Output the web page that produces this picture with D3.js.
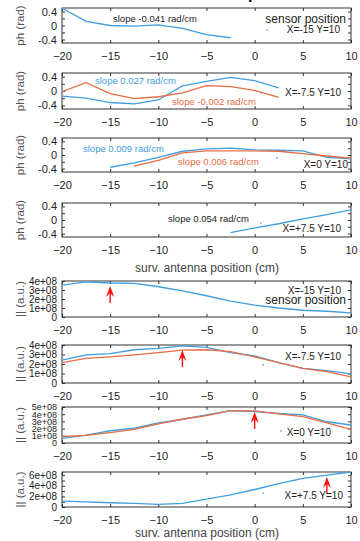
<!DOCTYPE html>
<html><head><meta charset="utf-8">
<script src="https://cdn.jsdelivr.net/npm/d3@7"></script>
<style>
body{margin:0;background:#fff}
svg{display:block}
text{font-family:"Liberation Sans",Arial,sans-serif}
</style>
</head><body>
<svg id="c" width="360" height="541"></svg>
<script>
// ---------------- data ----------------
const antennaPos = [-20,-17.5,-15,-12.5,-10,-7.5,-5,-2.5,0,2.5,5,7.5,10];
const xTickValues = [-20,-15,-10,-5,0,5,10];
const phTickValues = [-0.4,-0.2,0,0.2,0.4];
const phTickLabels = ["-0.4","","0","","0.4"];

const sensorLabels = ["X=-15 Y=10","X=-7.5 Y=10","X=0 Y=10","X=+7.5 Y=10"];
const sensorX = [-15,-7.5,0,7.5];

// phase (rad)
const ph1Blue   = [0.5,0.12,0.0,-0.02,0.02,-0.08,-0.26,-0.35,null,null,null,null,null];
const ph2Blue   = [-0.14,-0.2,-0.32,-0.36,-0.25,0.14,0.27,0.38,0.29,0.09,null,null,null];
const ph2Orange = [-0.02,0.23,-0.07,-0.21,-0.16,-0.05,0.15,0.12,0.02,-0.18,null,null,null];
const ph3Blue   = [null,null,-0.36,-0.23,-0.07,0.11,0.18,0.2,0.15,0.14,0.12,-0.07,-0.11];
const ph3Orange = [null,null,null,-0.33,-0.16,0.06,0.12,0.12,0.12,0.11,0.04,-0.03,-0.09];
const ph4Blue   = [null,null,null,null,null,null,null,-0.37,-0.23,-0.11,0.03,0.16,0.30];

const slopeBlue   = ["slope -0.041 rad/cm","slope 0.027 rad/cm","slope 0.009 rad/cm","slope 0.054 rad/cm"];
const slopeOrange = [null,"slope -0.002 rad/cm","slope 0.006 rad/cm",null];

// amplitude (a.u.)
const amp1Blue   = [3.55e8,3.9e8,3.78e8,3.74e8,3.36e8,2.9e8,2.36e8,1.76e8,1.31e8,1.0e8,0.75e8,0.64e8,0.45e8];
const amp2Blue   = [2.4e8,2.95e8,3.1e8,3.5e8,3.65e8,3.9e8,3.75e8,3.2e8,2.85e8,2.15e8,1.55e8,1.3e8,0.95e8];
const amp2Orange = [2.15e8,2.6e8,2.75e8,2.95e8,3.2e8,3.45e8,3.5e8,3.3e8,2.75e8,2.15e8,1.55e8,1.2e8,0.65e8];
const amp3Blue   = [0.65e8,1.1e8,1.7e8,2.05e8,2.8e8,3.3e8,3.9e8,4.5e8,4.35e8,4.1e8,3.9e8,2.95e8,2.5e8];
const amp3Orange = [0.9e8,1.05e8,1.45e8,1.9e8,2.65e8,3.3e8,3.8e8,4.5e8,4.45e8,4.05e8,3.65e8,2.8e8,1.9e8];
const amp4Blue   = [1.1e8,0.95e8,0.8e8,0.7e8,0.5e8,0.7e8,1.5e8,2.3e8,3.3e8,4.4e8,5.4e8,6.0e8,6.6e8];

const ampTicks1 = [0,1e8,2e8,3e8,4e8];
const ampTicks3 = [0,1e8,2e8,3e8,4e8,5e8];
const ampTicks4 = [0,1e8,2e8,3e8,4e8,5e8,6e8];
const ampLabels4 = [0,2e8,4e8,6e8];

// ---------------- style ----------------
const BLUE = "#3f9ee0", ORANGE = "#e86c42", RED = "#ff1010", FRAME = "#333";
const X0 = 62, X1 = 351;
const svg = d3.select("#c");
const x = d3.scaleLinear().domain([-20,10]).range([X0,X1]);
const ampFmt = v => v === 0 ? "0" : (v/1e8) + "e+08";

// title fragment (cut at top)
svg.append("text").attr("x",248).attr("y",-1).attr("font-size",16).attr("font-weight","bold").attr("fill","#000").text("p");

function panel(o){
  const g = svg.append("g");
  const y = d3.scaleLinear().domain(o.yDomain).range([o.top+o.h, o.top]);
  const bottom = g.append("g").attr("transform",`translate(0,${o.top+o.h})`)
    .call(d3.axisBottom(x).tickValues(xTickValues).tickSizeInner(-3).tickSizeOuter(0).tickPadding(9).tickFormat(d3.format("d")));
  bottom.selectAll("text").attr("font-size",11).attr("fill","#222").attr("font-family","Liberation Sans, Arial, sans-serif");
  const top = g.append("g").attr("transform",`translate(0,${o.top})`)
    .call(d3.axisTop(x).tickValues(xTickValues).tickSizeInner(-3).tickSizeOuter(0).tickFormat(""));
  const left = g.append("g").attr("transform",`translate(${X0},0)`)
    .call(d3.axisLeft(y).tickValues(o.yTicks).tickSizeInner(-3).tickSizeOuter(0).tickPadding(5).tickFormat(o.yFmt));
  left.selectAll("text").attr("font-size",o.yFont).attr("fill","#222").attr("font-family","Liberation Sans, Arial, sans-serif");
  const right = g.append("g").attr("transform",`translate(${X1},0)`)
    .call(d3.axisRight(y).tickValues(o.yTicks).tickSizeInner(-3).tickSizeOuter(0).tickFormat(""));
  [bottom,top,left,right].forEach(a=>{a.select(".domain").remove(); a.selectAll("line").attr("stroke",FRAME);});
  g.append("rect").attr("x",X0).attr("y",o.top).attr("width",X1-X0).attr("height",o.h)
    .attr("fill","none").attr("stroke",FRAME).attr("stroke-width",1);
  g.append("text").attr("transform",`translate(${24},${o.top+o.h/2}) rotate(-90)`)
    .attr("text-anchor","middle").attr("font-size",11.5).attr("fill","#555").text(o.yTitle);
  const clipId = "clip"+o.top;
  g.append("clipPath").attr("id",clipId).append("rect").attr("x",X0).attr("y",o.top-1).attr("width",X1-X0).attr("height",o.h+2);
  const line = d3.line().defined(d=>d[1]!=null).x(d=>x(d[0])).y(d=>y(d[1]));
  o.series.forEach(s=>{
    g.append("path").attr("clip-path",`url(#${clipId})`)
      .attr("d", line(antennaPos.map((p,i)=>[p,s.values[i]])))
      .attr("fill","none").attr("stroke",s.color).attr("stroke-width",1.3);
  });
  return {g,y};
}

function txt(g,xp,yp,t,fs,col,anchor){
  g.append("text").attr("x",xp).attr("y",yp).attr("font-size",fs).attr("fill",col)
    .attr("text-anchor",anchor||"start").attr("dominant-baseline","central").text(t);
}
function dot(g,xp,yp){
  g.append("line").attr("x1",xp-1).attr("x2",xp+1).attr("y1",yp).attr("y2",yp).attr("stroke",BLUE).attr("stroke-width",1.2);
}
function arrow(g,xp,tipY,baseY){
  g.append("line").attr("x1",xp).attr("x2",xp).attr("y1",tipY+5).attr("y2",baseY).attr("stroke",RED).attr("stroke-width",1.4);
  g.append("path").attr("d",`M${xp},${tipY} L${xp+4},${tipY+11} L${xp},${tipY+7} L${xp-4},${tipY+11} Z`).attr("fill",RED);
}

// ---------------- phase panels ----------------
const phTops = [8,73,138,203], phH = [35,36,34,34];
const phSeries = [[{values:ph1Blue,color:BLUE}],
                  [{values:ph2Blue,color:BLUE},{values:ph2Orange,color:ORANGE}],
                  [{values:ph3Blue,color:BLUE},{values:ph3Orange,color:ORANGE}],
                  [{values:ph4Blue,color:BLUE}]];
const phP = phTops.map((t,i)=>panel({top:t,h:phH[i],yDomain:[-0.5,0.5],yTicks:phTickValues,
  yFmt:(d,j)=>phTickLabels[j],yFont:11,yTitle:"ph (rad)",series:phSeries[i]}));

txt(phP[0].g,113,18,slopeBlue[0],9.5,"#222");
txt(phP[0].g,346,19,"sensor position",12,"#222","end");
txt(phP[0].g,340,29,sensorLabels[0],10,"#222","end"); dot(phP[0].g,267,30);

txt(phP[1].g,95,80,slopeBlue[1],9.5,BLUE);
txt(phP[1].g,172,101,slopeOrange[1],9.5,ORANGE);
txt(phP[1].g,341,92,sensorLabels[1],10,"#222","end"); dot(phP[1].g,261,93);

txt(phP[2].g,83,148,slopeBlue[2],9.5,BLUE);
txt(phP[2].g,178,161,slopeOrange[2],9.5,ORANGE);
txt(phP[2].g,348,164,sensorLabels[2],10,"#222","end"); dot(phP[2].g,277,158);

txt(phP[3].g,168,218,slopeBlue[3],9.5,"#222");
txt(phP[3].g,341,228,sensorLabels[3],10,"#222","end"); dot(phP[3].g,261,223);

svg.append("text").attr("x",207).attr("y",272).attr("text-anchor","middle").attr("font-size",12).attr("fill","#444").text("surv. antenna position (cm)");

// ---------------- amplitude panels ----------------
const ampTops = [281,345,407,472], ampH = [36,38,36,35];
const ampCfg = [
  {yDomain:[0,4e8],yTicks:ampTicks1,lab:ampTicks1,font:10,series:[{values:amp1Blue,color:BLUE}]},
  {yDomain:[0,4e8],yTicks:ampTicks1,lab:ampTicks1,font:10,series:[{values:amp2Blue,color:BLUE},{values:amp2Orange,color:ORANGE}]},
  {yDomain:[0,5e8],yTicks:ampTicks3,lab:ampTicks3,font:9,series:[{values:amp3Blue,color:BLUE},{values:amp3Orange,color:ORANGE}]},
  {yDomain:[0,6.6e8],yTicks:ampTicks4,lab:ampLabels4,font:10,series:[{values:amp4Blue,color:BLUE}]}
];
const ampP = ampTops.map((t,i)=>{
  const c = ampCfg[i];
  return panel({top:t,h:ampH[i],yDomain:c.yDomain,yTicks:c.yTicks,
    yFmt:d=>c.lab.includes(d)?ampFmt(d):"",yFont:c.font,yTitle:"|| (a.u.)",series:c.series});
});
ampP.forEach((p,i)=>arrow(p.g,x(sensorX[i]),ampTops[i]+5,ampTops[i]+22));

txt(ampP[0].g,341,290,sensorLabels[0],10,"#222","end");
txt(ampP[0].g,346,300,"sensor position",12,"#222","end");
txt(ampP[1].g,341,356,sensorLabels[1],10,"#222","end"); dot(ampP[1].g,263,365);
txt(ampP[2].g,331,432,sensorLabels[2],10,"#222","end"); dot(ampP[2].g,281,431);
txt(ampP[3].g,343,495,sensorLabels[3],10,"#222","end"); dot(ampP[3].g,263,493);

svg.append("text").attr("x",207).attr("y",537).attr("text-anchor","middle").attr("font-size",12).attr("fill","#444").text("surv. antenna position (cm)");
</script>
</body></html>
